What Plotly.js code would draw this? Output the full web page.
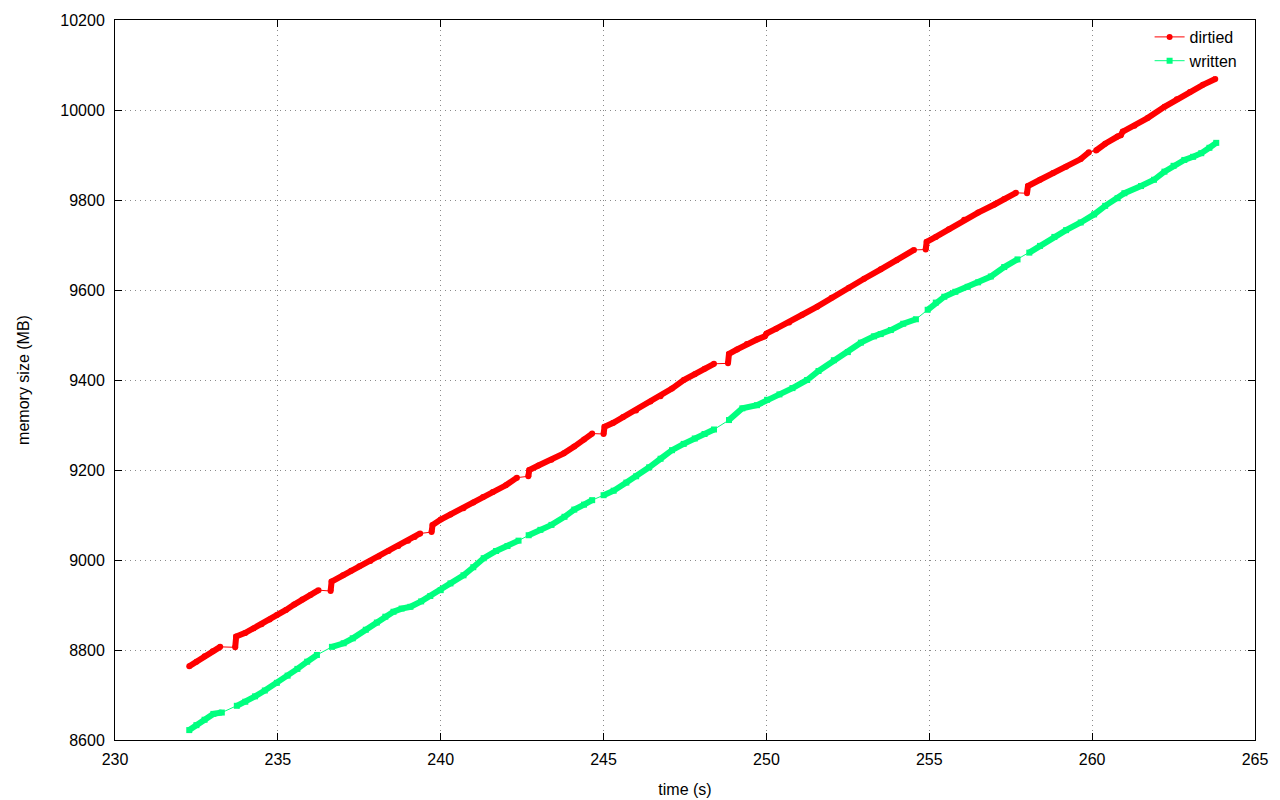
<!DOCTYPE html>
<html>
<head>
<meta charset="utf-8">
<script src="https://cdn.plot.ly/plotly-3.0.1.min.js"></script>
<style>html,body{margin:0;padding:0;background:#fff;}#chart{width:1280px;height:800px;}</style>
</head>
<body>
<div id="chart"></div>
<script>
// dirtied series (null marks a gap between write-back segments)
const dirtiedTime = [
  232.28,232.5,232.75,233.0,233.23, null,
  233.69,233.72,234.0,234.25,234.5,234.75,234.97,235.25,235.5,235.75,236.0,236.25, null,
  236.62,236.65,237.0,237.25,237.5,237.84,238.1,238.4,238.7,239.0,239.2,239.37, null,
  239.72,239.75,240.0,240.3,240.7,241.0,241.3,241.6,242.0,242.34, null,
  242.69,242.72,243.0,243.4,243.78,244.1,244.4,244.65, null,
  245.0,245.03,245.3,245.6,246.0,246.44,246.75,247.1,247.46,247.8,248.1,248.39, null,
  248.82,248.85,249.1,249.4,249.71,249.95,250.0,250.3,250.7,251.1,251.56,252.0,252.53,253.0,253.51,254.0,254.53, null,
  254.89,254.92,255.2,255.6,256.07,256.5,257.0,257.3,257.66, null,
  258.0,258.03,258.4,258.8,259.2,259.65,259.9, null,
  260.12,260.4,260.78,260.88,260.94,261.3,261.7,262.22,262.6,263.0,263.4,263.78
];
const dirtiedMB = [
  8764,8774,8786,8797,8807, null,
  8806,8830,8838,8848,8857,8868,8878,8889,8901,8912,8922,8933, null,
  8931,8952,8966,8976,8986,8998,9008,9020,9031,9043,9051,9059, null,
  9062,9078,9090,9101,9115,9128,9140,9151,9166,9183, null,
  9186,9200,9210,9223,9237,9252,9268,9281, null,
  9280,9296,9305,9318,9332,9352,9364,9381,9400,9413,9425,9436, null,
  9437,9458,9468,9480,9490,9497,9503,9514,9528,9545,9563,9583,9605,9625,9646,9666,9689, null,
  9690,9707,9718,9735,9756,9772,9790,9802,9816, null,
  9815,9831,9845,9860,9874,9891,9906, null,
  9910,9925,9941,9944,9952,9965,9982,10007,10024,10040,10056,10069
];
// written series
const writtenTime = [
  232.28,232.5,232.75,233.02,233.28, null,
  233.74,234.0,234.3,234.6,234.97,235.3,235.6,235.9,236.2, null,
  236.66,237.02,237.3,237.7,238.04,238.3,238.55,238.8,239.07,239.4,239.68,240.0,240.3,240.7,241.0,241.32,241.7,242.05,242.39, null,
  242.70,243.06,243.4,243.8,244.1,244.4,244.65, null,
  245.0,245.31,245.7,246.0,246.4,246.75,247.1,247.46,247.8,248.1,248.39, null,
  248.85,249.26,249.71,250.02,250.4,250.8,251.25,251.6,252.07,252.5,252.9,253.3,253.51,253.82,254.2,254.59, null,
  254.95,255.2,255.46,255.8,256.18,256.5,256.89,257.3,257.71, null,
  258.07,258.4,258.84,259.2,259.65,260.06,260.4,260.78,260.99,261.5,261.9,262.22,262.5,262.83,263.1,263.35,263.6,263.81
];
const writtenMB = [
  8622,8633,8645,8658,8661, null,
  8676,8685,8697,8710,8727,8743,8758,8774,8789, null,
  8807,8815,8826,8845,8861,8874,8885,8892,8896,8908,8920,8933,8948,8966,8984,9004,9020,9031,9043, null,
  9055,9067,9078,9096,9112,9123,9133, null,
  9144,9154,9172,9186,9206,9225,9244,9258,9270,9280,9290, null,
  9311,9337,9344,9356,9368,9382,9400,9420,9444,9462,9483,9497,9502,9511,9525,9535, null,
  9556,9572,9585,9596,9607,9617,9630,9651,9668, null,
  9683,9698,9718,9733,9750,9768,9787,9804,9815,9831,9845,9863,9876,9889,9896,9904,9916,9927
];
const xTicks = [230,235,240,245,250,255,260,265];
const yTicks = [8600,8800,9000,9200,9400,9600,9800,10000,10200];

const red = '#ff0000';
const green = '#00ff7f';
const font = 'Liberation Sans, Arial, sans-serif';

const traces = [
  {x: dirtiedTime, y: dirtiedMB, type: 'scatter', mode: 'lines', connectgaps: false,
   line: {color: red, width: 6}, showlegend: false, hoverinfo: 'skip'},
  {x: writtenTime, y: writtenMB, type: 'scatter', mode: 'lines', connectgaps: false,
   line: {color: green, width: 6}, showlegend: false, hoverinfo: 'skip'},
  {x: dirtiedTime, y: dirtiedMB, type: 'scatter', mode: 'lines+markers', connectgaps: true, name: 'dirtied',
   line: {color: red, width: 1}, marker: {color: red, size: 6, symbol: 'circle'}},
  {x: writtenTime, y: writtenMB, type: 'scatter', mode: 'lines+markers', connectgaps: true, name: 'written',
   line: {color: green, width: 1}, marker: {color: green, size: 6, symbol: 'square'}}
];

const axisCommon = {
  showline: true, linecolor: '#000', linewidth: 1, mirror: 'ticks',
  ticks: 'inside', ticklen: 7, tickcolor: '#000', tickwidth: 1,
  showgrid: true, gridcolor: '#8a8a8a', griddash: '1px,4px', gridwidth: 1,
  zeroline: false, tickfont: {family: font, size: 16, color: '#000'}
};

const layout = {
  width: 1280, height: 800,
  margin: {l: 115, r: 25, t: 20, b: 60},
  paper_bgcolor: '#fff', plot_bgcolor: '#fff',
  font: {family: font, size: 16, color: '#000'},
  xaxis: Object.assign({}, axisCommon, {
    range: [230, 265], tickmode: 'array', tickvals: xTicks, ticktext: xTicks.map(String),
    ticklabelstandoff: 5,
    title: {text: 'time (s)', font: {family: font, size: 16}, standoff: 16}
  }),
  yaxis: Object.assign({}, axisCommon, {
    range: [8600, 10200], tickmode: 'array', tickvals: yTicks, ticktext: yTicks.map(String),
    ticklabelstandoff: 6,
    title: {text: 'memory size (MB)', font: {family: font, size: 16}, standoff: 26}
  }),
  legend: {x: 0.99, xanchor: 'right', y: 1.0, yanchor: 'top', bgcolor: 'rgba(0,0,0,0)',
    font: {family: font, size: 16}, tracegroupgap: 0},
  showlegend: true
};

Plotly.newPlot('chart', traces, layout, {displayModeBar: false, staticPlot: true});
</script>
</body>
</html>
